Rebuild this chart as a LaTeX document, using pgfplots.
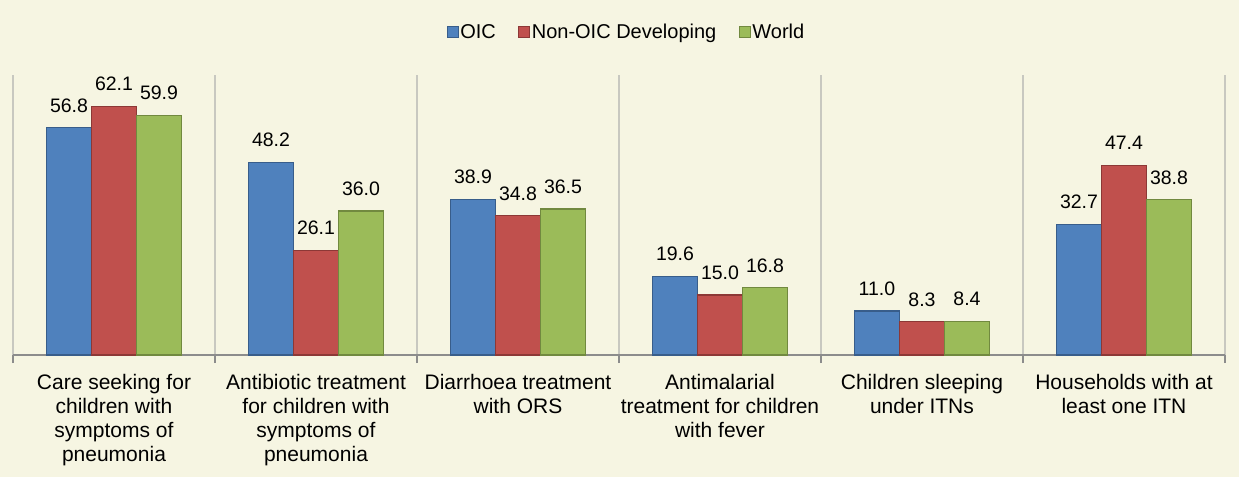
\documentclass[border=0pt]{standalone}
\usepackage{fontspec}
\setmainfont{Liberation Sans}
\usepackage{pgfplots}
\pgfplotsset{compat=1.18}
\definecolor{bg}{HTML}{F6F5E2}
\definecolor{oic}{HTML}{4F81BD}
\definecolor{oicedge}{HTML}{385D8A}
\definecolor{non}{HTML}{C0504D}
\definecolor{nonedge}{HTML}{8C3836}
\definecolor{wld}{HTML}{9BBB59}
\definecolor{wldedge}{HTML}{71893F}
\definecolor{gridc}{HTML}{C8C8C0}
\definecolor{axisc}{HTML}{8C8C8C}

\begin{document}
\begin{tikzpicture}[font=\fontsize{20}{24}\selectfont]
\fill[bg] (0,0) rectangle (1239pt,477pt);
\begin{axis}[
  at={(13pt,122pt)},anchor=south west,
  scale only axis,width=1212pt,height=280pt,
  ybar=0pt,bar width=45pt,
  xmin=-0.5,xmax=5.5,ymin=0,ymax=70,
  axis x line=bottom,x axis line style={-,axisc,line width=1.2pt},
  axis y line=none,
  xtick={0,...,5},major tick length=0pt,
  minor xtick={-0.5,0.5,...,5.5},minor tick length=8pt,tick align=outside,
  minor tick style={axisc,line width=1.2pt},
  minor x grid style={gridc,line width=1.2pt},xminorgrids,
  xticklabels={{Care seeking for\\children with\\symptoms of\\pneumonia},
    {Antibiotic treatment\\for children with\\symptoms of\\pneumonia},
    {Diarrhoea treatment\\with ORS},
    {Antimalarial\\treatment for children\\with fever},
    {Children sleeping\\under ITNs},
    {Households with at\\least one ITN}},
  xticklabel style={align=center,anchor=north,inner sep=0pt,yshift=-19pt,
    font=\fontsize{21}{24}\selectfont},
  /pgf/number format/assume math mode=true,
  /pgf/number format/fixed,/pgf/number format/fixed zerofill,
  /pgf/number format/precision=1,
  nodes near coords,
  every node near coord/.append style={anchor=south,inner sep=0pt,yshift=15pt,
    font=\fontsize{19.5}{24}\selectfont,text=black},
  legend columns=-1,
  legend style={draw=none,fill=none,at={(0.506,1.154)},anchor=center,
    font=\fontsize{20}{24}\selectfont,
    /tikz/every even column/.append style={column sep=21pt},
    nodes={inner sep=1.5pt}},
  legend image code/.code={\draw[#1,line width=1pt] (0pt,-5.5pt) rectangle (11pt,5.5pt);},
]
\addplot[fill=oic,draw=oicedge,line width=1.2pt] coordinates {(0,56.8) (1,48.2) (2,38.9) (3,19.6) (4,11.0) (5,32.7)};
\addlegendentry{OIC}
\addplot[fill=non,draw=nonedge,line width=1.2pt] coordinates {(0,62.1) (1,26.1) (2,34.8) (3,15.0) (4,8.3) (5,47.4)};
\addlegendentry{Non-OIC Developing}
\addplot[fill=wld,draw=wldedge,line width=1.2pt] coordinates {(0,59.9) (1,36.0) (2,36.5) (3,16.8) (4,8.4) (5,38.8)};
\addlegendentry{World}
\end{axis}
\pgfresetboundingbox
\useasboundingbox (0,0) rectangle (1239pt,477pt);
\end{tikzpicture}
\end{document}
